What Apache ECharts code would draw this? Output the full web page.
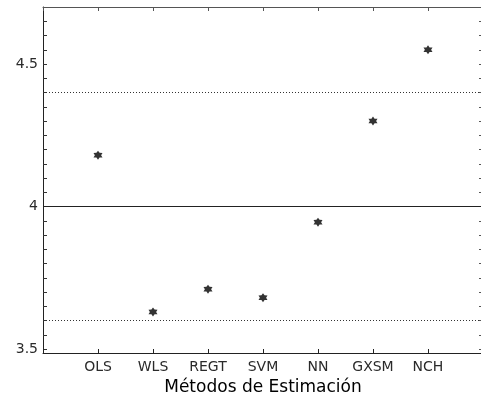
<!DOCTYPE html>
<html>
<head>
<meta charset="utf-8">
<script src="https://cdn.jsdelivr.net/npm/echarts@6/dist/echarts.min.js"></script>
<style>
  html, body { margin: 0; padding: 0; background: #fff; }
  #chart { width: 481px; height: 396px; }
</style>
</head>
<body>
<div id="chart"></div>
<script>
// Estimated value per estimation method
const methods = ['OLS', 'WLS', 'REGT', 'SVM', 'NN', 'GXSM', 'NCH'];
const values = [4.18, 3.63, 3.71, 3.68, 3.945, 4.30, 4.55];

// Reference levels: centre line and the two dotted bounds
const centerLevel = 4;
const boundLevels = [4.4, 3.6];

// Y axis labels and minor ticks
const yLabelValues = [3.5, 4, 4.5];
const yTickValues = [3.5, 3.55, 3.6, 3.65, 3.7, 3.75, 3.8, 3.85, 3.9, 3.95, 4,
  4.05, 4.1, 4.15, 4.2, 4.25, 4.3, 4.35, 4.4, 4.45, 4.5, 4.55, 4.6, 4.65];
const yMin = 3.486;
const yMax = 4.7;

const xPositions = methods.map((_, i) => i + 1);

// six-pointed star marker
function starPath() {
  const pts = [];
  for (let k = 0; k < 12; k++) {
    const r = k % 2 === 0 ? 10 : 6;
    const a = Math.PI / 2 + k * Math.PI / 6;
    pts.push((10 + r * Math.cos(a)).toFixed(2) + ' ' + (10 - r * Math.sin(a)).toFixed(2));
  }
  return 'path://M' + pts.join(' L') + ' Z';
}

const labelFont = { fontFamily: 'DejaVu Sans', fontSize: 14, color: '#2a2a2a' };

const chart = echarts.init(document.getElementById('chart'), null, { renderer: 'canvas' });
chart.setOption({
  animation: false,
  backgroundColor: '#fff',
  grid: { left: 43, right: -2, top: 7, bottom: 43, containLabel: false, outerBoundsMode: 'none' },
  xAxis: [{
    type: 'value', position: 'bottom', min: 0, max: 8, interval: 1,
    axisLine: { show: true, lineStyle: { color: '#222', width: 1 } },
    axisTick: { show: true, inside: true, length: 4, lineStyle: { color: '#222' } },
    axisLabel: Object.assign({
      margin: 7,
      formatter: v => (v >= 1 && v <= methods.length) ? methods[v - 1] : ''
    }, labelFont),
    splitLine: { show: false },
    name: 'Métodos de Estimación',
    nameLocation: 'middle',
    nameGap: 21,
    nameTextStyle: { fontFamily: 'DejaVu Sans', fontSize: 17, color: '#000' }
  }, {
    type: 'value', position: 'top', min: 0, max: 8, interval: 1,
    axisLine: { show: true, onZero: false, lineStyle: { color: '#555', width: 1 } },
    axisTick: { show: true, inside: true, length: 4, lineStyle: { color: '#555' } },
    axisLabel: { show: false },
    splitLine: { show: false }
  }],
  yAxis: [{
    type: 'value', position: 'left', min: yMin, max: yMax,
    axisLine: { show: true, lineStyle: { color: '#222', width: 1 } },
    axisTick: { show: true, inside: true, length: 4, customValues: yTickValues, lineStyle: { color: '#333' } },
    axisLabel: Object.assign({ margin: 5, customValues: yLabelValues, formatter: v => String(v) }, labelFont),
    splitLine: { show: false }
  }, {
    type: 'value', position: 'right', min: yMin, max: yMax,
    axisLine: { show: true, onZero: false, lineStyle: { color: '#555', width: 1 } },
    axisTick: { show: true, inside: true, length: 4, customValues: yTickValues, lineStyle: { color: '#555' } },
    axisLabel: { show: false },
    splitLine: { show: false }
  }],
  series: [{
    type: 'scatter',
    xAxisIndex: 0, yAxisIndex: 0,
    symbol: starPath(),
    symbolSize: 9,
    itemStyle: { color: '#000' },
    data: values.map((v, i) => [xPositions[i], v]),
    markLine: {
      silent: true,
      symbol: 'none',
      label: { show: false },
      data: [
        { yAxis: centerLevel, lineStyle: { color: '#222', width: 1, type: 'solid' } }
      ].concat(boundLevels.map(b => ({
        yAxis: b, lineStyle: { color: '#333', width: 1, type: [1, 2] }
      })))
    }
  }]
});
</script>
</body>
</html>
